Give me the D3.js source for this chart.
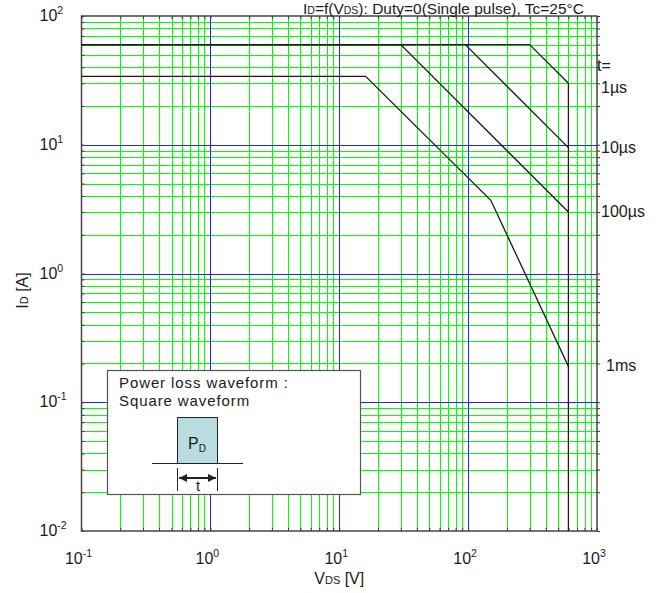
<!DOCTYPE html>
<html>
<head>
<meta charset="utf-8">
<script src="https://cdn.jsdelivr.net/npm/d3@7"></script>
<style>
  body { margin: 0; background: #fff; }
  text { font-family: "Liberation Sans", Arial, sans-serif; fill: #1a1a1a; }
</style>
</head>
<body>
<div id="chart"></div>
<script>
// chart data: safe operating area, ID vs VDS, single pulse, Tc = 25 C
const vdsDecades = [0.1, 1, 10, 100, 1000];
const idDecades = [0.01, 0.1, 1, 10, 100];
const minorSteps = [2, 3, 4, 5, 6, 7, 8, 9];
const xExponents = ["-1", "0", "1", "2", "3"];
const yExponents = ["-2", "-1", "0", "1", "2"];

// each curve: [VDS (V), ID (A)]
const pulse1us = [[0.1, 60], [300, 60], [600, 30]];
const pulse10us = [[0.1, 60], [95, 60], [600, 9.5]];
const pulse100us = [[0.1, 60], [30, 60], [600, 3]];
const pulse1ms = [[0.1, 34], [16, 34], [150, 3.7], [600, 0.19]];
const vdssLimit = [[600, 30], [600, 0.01]];
const pulseNames = ["1µs", "10µs", "100µs", "1ms"];

const width = 665;
const height = 593;
const margin = { top: 16, right: 68, bottom: 62, left: 81.5 };

const svg = d3
  .select("#chart")
  .append("svg")
  .attr("width", width)
  .attr("height", height);

const x = d3.scaleLog().domain([0.1, 1000]).range([margin.left, width - margin.right]);
const y = d3.scaleLog().domain([0.01, 100]).range([height - margin.bottom, margin.top]);

// minor grid values 2..9 in every decade
const xMinor = vdsDecades.slice(0, -1).flatMap((d) => minorSteps.map((k) => k * d));
const yMinor = idDecades.slice(0, -1).flatMap((d) => minorSteps.map((k) => k * d));

const grid = svg.append("g").attr("class", "grid");

grid
  .selectAll("line.vx")
  .data(xMinor)
  .enter()
  .append("line")
  .attr("x1", (d) => Math.round(x(d)) + 0.5)
  .attr("x2", (d) => Math.round(x(d)) + 0.5)
  .attr("y1", y(0.01))
  .attr("y2", y(100))
  .style("stroke", "#00ff00");

grid
  .selectAll("line.hy")
  .data(yMinor)
  .enter()
  .append("line")
  .attr("y1", (d) => Math.round(y(d)) + 0.5)
  .attr("y2", (d) => Math.round(y(d)) + 0.5)
  .attr("x1", x(0.1))
  .attr("x2", x(1000))
  .style("stroke", "#00ff00");

// decade lines in blue
grid
  .selectAll("line.dx")
  .data(vdsDecades.slice(1, -1))
  .enter()
  .append("line")
  .attr("x1", (d) => Math.round(x(d)) + 0.5)
  .attr("x2", (d) => Math.round(x(d)) + 0.5)
  .attr("y1", y(0.01))
  .attr("y2", y(100))
  .style("stroke", "#2222ff");

grid
  .selectAll("line.dy")
  .data(idDecades.slice(1, -1))
  .enter()
  .append("line")
  .attr("y1", (d) => Math.round(y(d)) + 0.5)
  .attr("y2", (d) => Math.round(y(d)) + 0.5)
  .attr("x1", x(0.1))
  .attr("x2", x(1000))
  .style("stroke", "#2222ff");

// axes: small inward ticks, labels drawn separately
const tickX = xMinor.concat(vdsDecades);
const tickY = yMinor.concat(idDecades);
const axisStyle = (g) => {
  g.select(".domain").remove();
  g.selectAll(".tick line").style("stroke", "#333");
};
svg.append("g")
  .attr("transform", `translate(0,${y(0.01)})`)
  .call(d3.axisBottom(x).tickValues(tickX).tickSize(-3).tickFormat(""))
  .call(axisStyle);
svg.append("g")
  .attr("transform", `translate(0,${y(100)})`)
  .call(d3.axisTop(x).tickValues(tickX).tickSize(-3).tickFormat(""))
  .call(axisStyle);
svg.append("g")
  .attr("transform", `translate(${x(0.1)},0)`)
  .call(d3.axisLeft(y).tickValues(tickY).tickSize(-3).tickFormat(""))
  .call(axisStyle);
svg.append("g")
  .attr("transform", `translate(${x(1000)},0)`)
  .call(d3.axisRight(y).tickValues(tickY).tickSize(3).tickFormat(""))
  .call(axisStyle);

// frame
svg.append("rect")
  .attr("x", x(0.1))
  .attr("y", y(100))
  .attr("width", x(1000) - x(0.1))
  .attr("height", y(0.01) - y(100))
  .style("fill", "none")
  .style("stroke", "#444")
  .style("stroke-width", 1.5);

// curves
const line = d3.line().x((d) => x(d[0])).y((d) => y(d[1]));
const curves = [pulse1us, pulse10us, pulse100us, pulse1ms, vdssLimit];
svg.append("g")
  .selectAll("path")
  .data(curves)
  .enter()
  .append("path")
  .attr("d", line)
  .style("fill", "none")
  .style("stroke", "#1a1a1a")
  .style("stroke-width", 1.3);

// tick labels: 10 with superscript exponent
const xLab = svg.append("g")
  .selectAll("text")
  .data(vdsDecades)
  .enter()
  .append("text")
  .attr("x", (d) => x(d) - 3)
  .attr("y", y(0.01) + 33)
  .attr("text-anchor", "middle")
  .style("font-size", "16px");
xLab.append("tspan").text("10");
xLab.append("tspan")
  .attr("dy", -7)
  .style("font-size", "10.5px")
  .text((d, i) => xExponents[i]);

const yLab = svg.append("g")
  .selectAll("text")
  .data(idDecades)
  .enter()
  .append("text")
  .attr("x", x(0.1) - 42)
  .attr("y", (d) => y(d) + 5)
  .style("font-size", "16px");
yLab.append("tspan").text("10");
yLab.append("tspan")
  .attr("dy", -7)
  .style("font-size", "10.5px")
  .text((d, i) => yExponents[i]);

// axis titles
const xTitle = svg.append("text")
  .attr("x", x(10))
  .attr("y", y(0.01) + 53)
  .attr("text-anchor", "middle")
  .style("font-size", "16px");
xTitle.append("tspan").text("V");
xTitle.append("tspan").style("font-size", "11px").text("DS");
xTitle.append("tspan").text(" [V]");

const yTitle = svg.append("text")
  .attr("transform", `translate(28,${y(1) + 17}) rotate(-90)`)
  .attr("text-anchor", "middle")
  .style("font-size", "16px");
yTitle.append("tspan").text("I");
yTitle.append("tspan").style("font-size", "11px").text("D");
yTitle.append("tspan").text(" [A]");

// chart title at the very top edge
const title = svg.append("text")
  .attr("x", 303)
  .attr("y", 13.5)
  .style("font-size", "15.5px");
title.append("tspan").text("I");
title.append("tspan").style("font-size", "10.5px").text("D");
title.append("tspan").text("=f(V");
title.append("tspan").style("font-size", "10.5px").text("DS");
title.append("tspan").text("): Duty=0(Single pulse), Tc=25°C");

// pulse width labels at the end of each curve
const ends = [pulse1us, pulse10us, pulse100us, pulse1ms].map((c) => c[c.length - 1][1]);
const labelShift = [10, 5, 5, 5];
svg.append("text")
  .attr("x", x(1000))
  .attr("y", y(ends[0]) - 12)
  .style("font-size", "16px")
  .text("t=");
svg.append("g")
  .selectAll("text")
  .data(pulseNames)
  .enter()
  .append("text")
  .attr("x", (d, i) => x(1000) + (i === 3 ? 9 : 4))
  .attr("y", (d, i) => y(ends[i]) + labelShift[i])
  .style("font-size", "16px")
  .text((d) => d);

// inset: power loss waveform
const inset = svg.append("g");
inset.append("rect")
  .attr("x", 107.5)
  .attr("y", 370.5)
  .attr("width", 253)
  .attr("height", 124)
  .style("fill", "#fff")
  .style("stroke", "#555")
  .style("stroke-width", 1.2);
inset.append("text")
  .attr("x", 119)
  .attr("y", 388)
  .style("font-size", "15px")
  .style("letter-spacing", "0.9px")
  .text("Power loss waveform :");
inset.append("text")
  .attr("x", 119)
  .attr("y", 406)
  .style("font-size", "15px")
  .style("letter-spacing", "0.9px")
  .text("Square waveform");
inset.append("rect")
  .attr("x", 177.5)
  .attr("y", 417.5)
  .attr("width", 40)
  .attr("height", 46)
  .style("fill", "#b7dde0")
  .style("stroke", "#222");
inset.append("line")
  .attr("x1", 152).attr("x2", 243)
  .attr("y1", 463.5).attr("y2", 463.5)
  .style("stroke", "#222");
const pd = inset.append("text")
  .attr("x", 197)
  .attr("y", 449)
  .attr("text-anchor", "middle")
  .style("font-size", "16px");
pd.append("tspan").text("P");
pd.append("tspan").attr("dy", 3).style("font-size", "10px").text("D");
inset.selectAll("line.tick")
  .data([177.5, 217.5])
  .enter()
  .append("line")
  .attr("x1", (d) => d).attr("x2", (d) => d)
  .attr("y1", 468).attr("y2", 491)
  .style("stroke", "#222");
svg.append("defs").append("marker")
  .attr("id", "arr")
  .attr("viewBox", "0 0 10 10")
  .attr("refX", 10).attr("refY", 5)
  .attr("markerWidth", 4).attr("markerHeight", 4)
  .attr("orient", "auto-start-reverse")
  .append("path")
  .attr("d", "M0,0L10,5L0,10z")
  .style("fill", "#222");
inset.append("line")
  .attr("x1", 179).attr("x2", 216)
  .attr("y1", 478).attr("y2", 478)
  .style("stroke", "#222")
  .style("stroke-width", 2)
  .attr("marker-start", "url(#arr)")
  .attr("marker-end", "url(#arr)");
inset.append("text")
  .attr("x", 198)
  .attr("y", 491)
  .attr("text-anchor", "middle")
  .style("font-size", "15px")
  .text("t");
</script>
</body>
</html>
